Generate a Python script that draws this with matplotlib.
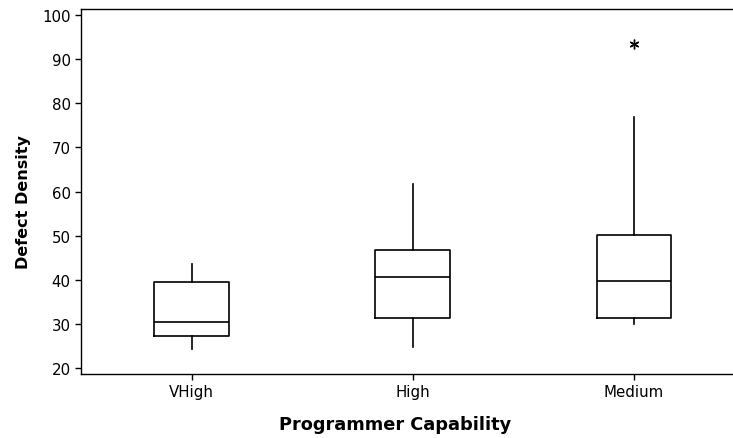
import matplotlib.pyplot as plt

# five-number summaries per capability group
groups = ['VHigh', 'High', 'Medium']
whislo = [24.3, 24.8, 29.9]
q1 = [27.3, 31.2, 31.2]
med = [30.4, 40.6, 39.7]
q3 = [39.5, 46.7, 50.2]
whishi = [43.6, 61.7, 77.0]
outliers = [[], [], [93.4]]

stats = []
for i in range(len(groups)):
    stats.append({'label': groups[i], 'whislo': whislo[i], 'q1': q1[i],
                  'med': med[i], 'q3': q3[i], 'whishi': whishi[i],
                  'fliers': outliers[i]})

fig = plt.figure(figsize=(7.33, 4.39), dpi=100)
ax = fig.add_axes([81/733, 64/439, 663.5/733, 365/439])

lp = dict(color='black', linewidth=1.2)
ax.bxp(stats, positions=[1, 2, 3], widths=0.337, showcaps=False,
       boxprops=lp, whiskerprops=lp, medianprops=lp,
       flierprops=dict(marker=(6, 2, 0), markersize=7, markeredgecolor='black',
                       markeredgewidth=1.0, linestyle='none'))

ax.set_xlim(0.5, 3.5)
ax.set_ylim(18.6, 101.4)
ax.set_yticks(range(20, 101, 10))
ax.tick_params(direction='out', length=4, width=1, labelsize=10.8, colors='black')
ax.spines['right'].set_visible(False)
for s in ax.spines.values():
    s.set_linewidth(1.0)

ax.set_xlabel('Programmer Capability', fontsize=12.8, fontweight='bold')
ax.xaxis.set_label_coords(0.473, -0.112)
ax.set_ylabel('Defect Density', fontsize=11.5, fontweight='bold')
ax.yaxis.set_label_coords(-0.076, 0.474)

plt.savefig('out.png', dpi=100)
